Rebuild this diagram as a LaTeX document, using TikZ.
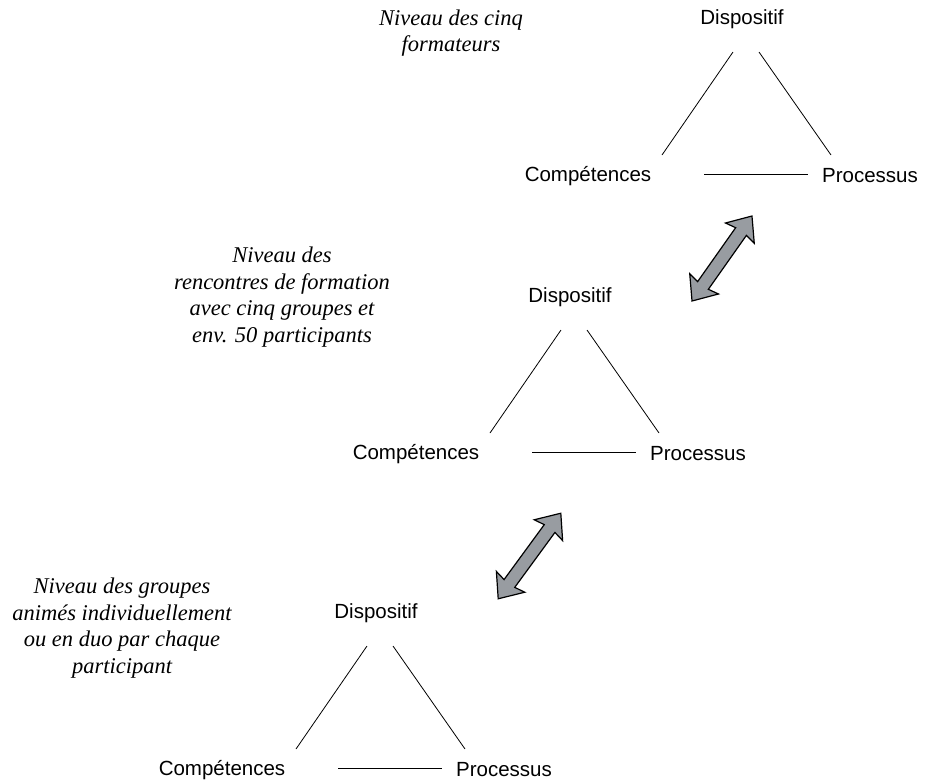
\documentclass[tikz,border=0pt]{standalone}
\usepackage{fontspec}
\setmainfont{Liberation Serif}
\setsansfont{Liberation Sans}
\usetikzlibrary{shapes.arrows}
\definecolor{arrowgray}{RGB}{152,156,161}

\begin{document}
\begin{tikzpicture}[x=1pt, y=-1pt,
  lab/.style={font=\sffamily\fontsize{20.5}{24}\selectfont, inner sep=0pt},
  level/.style={font=\itshape\fontsize{22.5}{26.7}\selectfont, align=center, inner sep=0pt},
  link/.style={line width=0.8pt},
  twoway/.style={double arrow, draw=black, fill=arrowgray, line width=1.2pt,
    text height=0pt, text depth=0pt, inner xsep=0pt, inner ysep=6pt,
    minimum height=104pt, double arrow head extend=11pt, double arrow head indent=2pt,
    double arrow tip angle=80}]
\useasboundingbox (0,0) rectangle (930,780);
% level texts
\node[level] (lvltop) at (451,33) {Niveau des cinq\\formateurs};
\node[level] (lvlmid) at (282,297) {Niveau des\\rencontres de formation\\avec cinq groupes et\\env. 50 participants};
\node[level] (lvlbot) at (122,628) {Niveau des groupes\\animés individuellement\\ou en duo par chaque\\participant};
% top triangle
\begin{scope}[shift={(742,19)}]
\node[lab] (topD) at (0,0) {Dispositif};
\node[lab] (topC) at (-154,157) {Compétences};
\node[lab] (topP) at (128,157) {Processus};
\coordinate (topDl) at (-9,33); \coordinate (topCr) at (-80,136);
\coordinate (topDr) at (17,33); \coordinate (topPl) at (89,136);
\coordinate (topCe) at (-38,155); \coordinate (topPw) at (66,155);
\draw[link] (topDl) -- (topCr);
\draw[link] (topDr) -- (topPl);
\draw[link] (topCe) -- (topPw);
\end{scope}
% middle triangle
\begin{scope}[shift={(570,297)}]
\node[lab] (midD) at (0,0) {Dispositif};
\node[lab] (midC) at (-154,157) {Compétences};
\node[lab] (midP) at (128,157) {Processus};
\coordinate (midDl) at (-9,33); \coordinate (midCr) at (-80,136);
\coordinate (midDr) at (17,33); \coordinate (midPl) at (89,136);
\coordinate (midCe) at (-38,155); \coordinate (midPw) at (66,155);
\draw[link] (midDl) -- (midCr);
\draw[link] (midDr) -- (midPl);
\draw[link] (midCe) -- (midPw);
\end{scope}
% bottom triangle
\begin{scope}[shift={(376,613)}]
\node[lab] (botD) at (0,0) {Dispositif};
\node[lab] (botC) at (-154,157) {Compétences};
\node[lab] (botP) at (128,157) {Processus};
\coordinate (botDl) at (-9,33); \coordinate (botCr) at (-80,136);
\coordinate (botDr) at (17,33); \coordinate (botPl) at (89,136);
\coordinate (botCe) at (-38,155); \coordinate (botPw) at (66,155);
\draw[link] (botDl) -- (botCr);
\draw[link] (botDr) -- (botPl);
\draw[link] (botCe) -- (botPw);
\end{scope}
% arrows between levels
\node[twoway, rotate=54.8] (uparrow) at (722,258.5) {};
\node[twoway, rotate=53.8, minimum height=106pt] (lowarrow) at (529.5,556) {};
\end{tikzpicture}
\end{document}
